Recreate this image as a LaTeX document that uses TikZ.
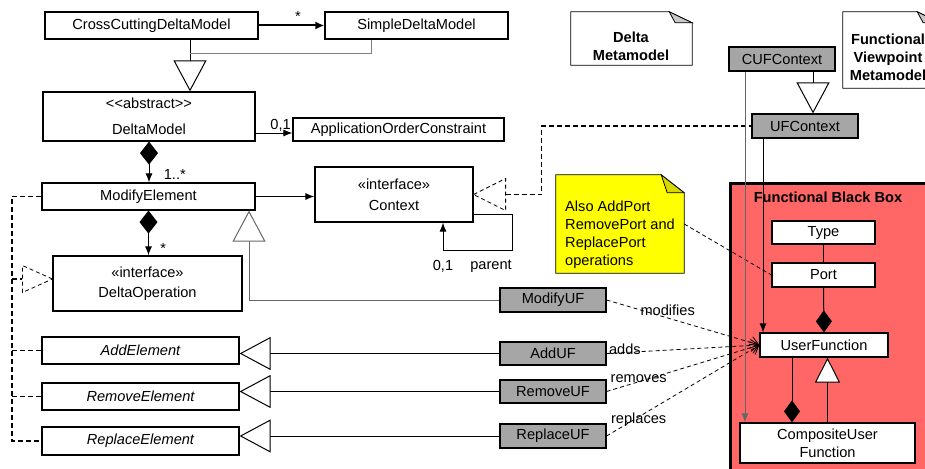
\documentclass[tikz,border=0pt]{standalone}
\usepackage{fontspec}
\setmainfont{Liberation Sans}
\usetikzlibrary{arrows.meta}

\definecolor{ufgray}{HTML}{A6A6A6}
\definecolor{fbbred}{HTML}{FF6666}
\definecolor{notegray}{HTML}{C8C8C8}
\definecolor{noteyellow}{HTML}{FFFF00}
\definecolor{foldyellow}{HTML}{D8D800}

\tikzset{
  cls/.style={draw=black, rectangle, fill=white, line width=1.2pt, inner sep=0pt},
  ufbox/.style={cls, fill=ufgray},
  fbb/.style={draw=black, fill=fbbred, line width=3pt, inner sep=0pt},
  notebox/.style={inner sep=0pt},
  notetext/.style={font=\fontsize{14.6}{18}\selectfont\bfseries, align=center},
  gen/.style={-{Triangle[fill=white, length=31pt, width=33pt]}, line width=1pt},
  comp/.style={{Diamond[length=23pt, width=18pt]}-{Latex[length=9pt, width=7pt]}, line width=1pt},
  compend/.style={-{Diamond[length=22pt, width=16pt]}, line width=1pt},
  assoc/.style={-{Latex[length=9pt, width=7pt]}, line width=1pt},
  dep/.style={dash pattern=on 4pt off 3pt, -{Straight Barb[length=8pt, width=12pt]}, line width=0.8pt},
  real/.style={dash pattern=on 5pt off 3pt, line width=1.4pt},
  realtri/.style={dash pattern=on 4pt off 3pt, line width=0.8pt, fill=white},
}

% note outline with a folded corner: name, fold height, fill, fold fill
\newcommand{\dogear}[4]{%
  \draw[line width=0.8pt, fill=#3] (#1.north west) -- ([xshift=-23pt]#1.north east)
    -- ([yshift=-#2pt]#1.north east) -- (#1.south east) -- (#1.south west) -- cycle;
  \draw[line width=0.8pt, fill=#4] ([xshift=-23pt]#1.north east) -- ([yshift=-#2pt]#1.north east)
    -- ([xshift=-17pt, yshift=-#2pt]#1.north east) -- cycle;}

\begin{document}
\begin{tikzpicture}[x=1pt, y=-1pt, font=\fontsize{14.6}{17.5}\selectfont]
\useasboundingbox (0,0) rectangle (925,468);
\clip (0,0) rectangle (925,468);

% functional black box
\node[fbb, minimum width=206pt, minimum height=296pt, anchor=north west] (fbb) at (729,182) {};
\node[font=\fontsize{14.6}{17.5}\selectfont\bfseries] (fbbtitle) at (828,197) {Functional Black Box};

% notes
\node[notebox, minimum width=121pt, minimum height=53pt] (dnote) at (631.5,38.5) {};
\dogear{dnote}{11}{white}{notegray}
\node[notetext] (dnotetext) at (631,46) {Delta\\Metamodel};

\node[notebox, minimum width=97pt, minimum height=76pt] (fnote) at (891.5,50) {};
\dogear{fnote}{11}{white}{notegray}
\node[notetext] (fnotetext) at (888,57.5) {Functional\\Viewpoint\\Metamodel};

\node[notebox, minimum width=128pt, minimum height=98pt] (ynote) at (620,224) {};
\dogear{ynote}{18}{noteyellow}{foldyellow}
\node[align=left] (ynotetext) at (620,235) {Also AddPort\\[0.5pt]RemovePort and\\[0.5pt]ReplacePort\\[0.5pt]operations};

% delta metamodel
\node[cls, minimum width=213pt, minimum height=27pt] (ccdm) at (151.5,25.5) {CrossCuttingDeltaModel};
\node[cls, minimum width=183pt, minimum height=27pt] (sdm) at (416.5,25.5) {SimpleDeltaModel};
\node[cls, minimum width=212pt, minimum height=49pt, align=center] (dm) at (149,116.5)
  {<\kern0pt<abstract>\kern0pt>\\[9pt]DeltaModel};
\node[cls, minimum width=211pt, minimum height=23pt] (aoc) at (398.5,129.5) {ApplicationOrderConstraint};
\node[cls, minimum width=213pt, minimum height=27pt] (me) at (148.5,196.5) {ModifyElement};
\node[cls, minimum width=158pt, minimum height=55pt, align=center] (ctx) at (394,194.5)
  {«interface»\\[3.5pt]Context};
\node[cls, minimum width=189pt, minimum height=55pt, align=center] (dop) at (147.5,283.5)
  {«interface»\\[2.5pt]DeltaOperation};
\node[cls, minimum width=197pt, minimum height=27pt] (adde) at (140.5,350.5) {\itshape AddElement};
\node[cls, minimum width=197pt, minimum height=27pt] (reme) at (140.5,396.5) {\itshape RemoveElement};
\node[cls, minimum width=197pt, minimum height=28pt] (repe) at (140.5,441) {\itshape ReplaceElement};

% functional viewpoint metamodel
\node[ufbox, minimum width=106pt, minimum height=24pt] (muf) at (553,300) {ModifyUF};
\node[ufbox, minimum width=106pt, minimum height=23pt] (auf) at (553,353.5) {AddUF};
\node[ufbox, minimum width=106pt, minimum height=23pt] (ruf) at (553,391.5) {RemoveUF};
\node[ufbox, minimum width=106pt, minimum height=24pt] (rpuf) at (553,436) {ReplaceUF};
\node[ufbox, minimum width=106pt, minimum height=24pt] (cufc) at (782,59) {CUFContext};
\node[ufbox, minimum width=106pt, minimum height=24pt] (ufc) at (805,126) {UFContext};
\node[cls, minimum width=103pt, minimum height=23pt] (type) at (823.5,232.5) {Type};
\node[cls, minimum width=103pt, minimum height=24pt] (port) at (823.5,275) {Port};
\node[cls, minimum width=128pt, minimum height=24pt] (uf) at (824,345) {UserFunction};
\node[cls, minimum width=175pt, minimum height=40pt, align=center] (cuf) at (827.5,443)
  {CompositeUser\\[0.5pt]Function};

% delta model connectors
\draw[line width=2pt, -{Latex[length=9pt, width=8pt]}] (ccdm.east) -- (sdm.west)
  node[pos=0.6, above, inner sep=3pt] (many) {*};
\coordinate (genj) at (190,54);
\draw[line width=1pt] (genj |- ccdm.south) -- (genj);
\draw[line width=1pt, gray] ([xshift=-45.5pt]sdm.south) |- (genj);
\draw[gen] (genj) -- (genj |- dm.north);

\coordinate (aocin) at ([yshift=-3.5pt]aoc.west);
\draw[assoc] (aocin -| dm.east) -- (aocin)
  node[pos=0.68, above, inner sep=1pt] (aocmult) {0,1};

\draw[comp] (dm.south) -- (dm.south |- me.north)
  node[pos=0.8, anchor=west, xshift=11pt] (memult) {1..*};
\draw[assoc] (me.east) -- (me.east -| ctx.west);
\draw[assoc] ([yshift=8pt]ctx.south east) -- ++(39,0) -- ++(0,36) -| ([xshift=49pt]ctx.south);
\node (ctxmult) at (443,266) {0,1};
\node (ctxrole) at (491,266) {parent};

\draw[comp] (me.south) -- (me.south |- dop.north)
  node[pos=0.85, anchor=west, xshift=8pt] (dopmult) {*};

% realization of DeltaOperation
\coordinate (bus) at (12,0);
\coordinate (dopin) at ([yshift=4.5pt]dop.west);
\draw[real] (me.west) -- (me.west -| bus) -- (repe.west -| bus) -- (repe.west);
\draw[real] (adde.west -| bus) -- (adde.west);
\draw[real] (reme.west -| bus) -- (reme.west);
\draw[real] (dopin -| bus) -- ([xshift=-30pt]dopin);
\draw[realtri] (dopin) -- ++(-30,-13.5) -- ++(0,27) -- cycle;

% realization of Context
\draw[real] ([xshift=32pt]ctx.east) -- ++(36,0) |- (ufc.west);
\draw[realtri] (ctx.east) -- ++(32,-16) -- ++(0,32) -- cycle;

% generalizations into the delta metamodel
\draw[gen, draw=gray!80!black] (muf.west) -| ([xshift=100.5pt]me.south);
\draw[gen] (auf.west) -- (auf.west -| adde.east);
\draw[gen] (ruf.west) -- (ruf.west -| reme.east);
\draw[gen] (rpuf.west) -- (rpuf.west -| repe.east);

% dependencies on UserFunction
\draw[dep] (muf.east) -- (uf.west) node[pos=0.4, yshift=8pt] (modlbl) {modifies};
\draw[dep] (auf.east) -- (uf.west) node[pos=0.12, yshift=3pt] (addlbl) {adds};
\draw[dep] (ruf.east) -- (uf.west) node[pos=0.21, yshift=3pt] (remlbl) {removes};
\draw[dep] (rpuf.east) -- (uf.west) node[pos=0.21, yshift=-3pt] (replbl) {replaces};
\draw[dash pattern=on 4pt off 3pt, line width=0.8pt] (ynote.east) -- (port.west);

% functional black box connectors
\draw[line width=1pt] (type) -- (port);
\draw[compend] (port.south) -- (uf.north);
\draw[compend] ([xshift=-32pt]uf.south) -- ([xshift=-32pt]uf.south |- cuf.north);
\draw[gen, -{Triangle[fill=white, length=25pt, width=25pt]}] (cuf.north) -- (cuf.north |- uf.south);
\draw[gen] ([xshift=31pt]cufc.south) -- ([xshift=31pt]cufc.south |- ufc.north);
\draw[assoc, draw=gray!80!black] ([xshift=-37pt]cufc.south) -- ([xshift=-37pt]cufc.south |- cuf.north);
\draw[assoc] ([xshift=-42pt]ufc.south) -- ([xshift=-42pt]ufc.south |- uf.north);

\end{tikzpicture}
\end{document}
